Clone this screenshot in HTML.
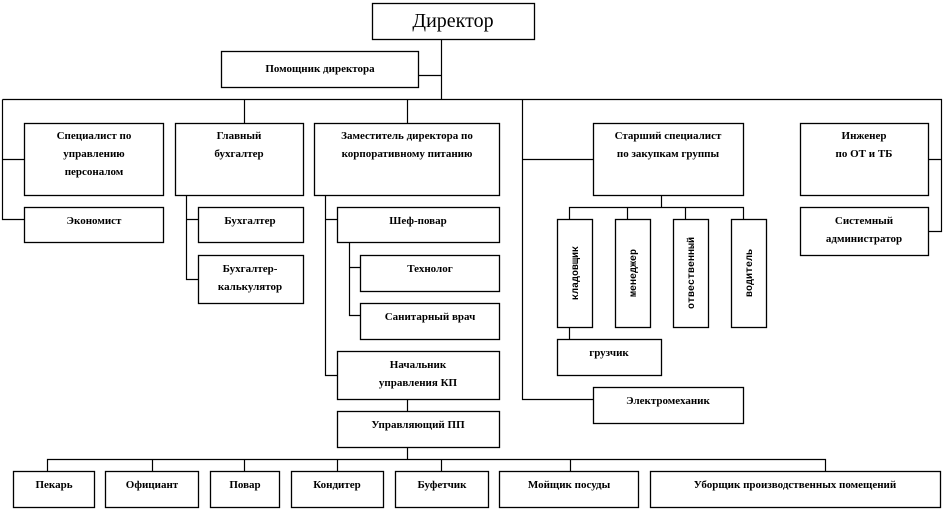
<!DOCTYPE html>
<html><head><meta charset="utf-8"><style>
html,body{margin:0;padding:0;background:#fff;}
svg{display:block}
text{font-family:"Liberation Serif",serif;font-weight:bold;font-size:11px;fill:#000}
.m{font-family:"Liberation Mono",monospace;font-size:10px}
</style></head><body>
<svg width="943" height="510" viewBox="0 0 943 510" xmlns="http://www.w3.org/2000/svg">
<g fill="#fff" stroke="#000" stroke-width="1.3">
<rect x="372.5" y="3.5" width="162" height="36"/>
<rect x="221.5" y="51.5" width="197" height="36"/>
<rect x="24.5" y="123.5" width="139" height="72"/>
<rect x="24.5" y="207.5" width="139" height="35"/>
<rect x="175.5" y="123.5" width="128" height="72"/>
<rect x="198.5" y="207.5" width="105" height="35"/>
<rect x="198.5" y="255.5" width="105" height="48"/>
<rect x="314.5" y="123.5" width="185" height="72"/>
<rect x="337.5" y="207.5" width="162" height="35"/>
<rect x="360.5" y="255.5" width="139" height="36"/>
<rect x="360.5" y="303.5" width="139" height="36"/>
<rect x="337.5" y="351.5" width="162" height="48"/>
<rect x="337.5" y="411.5" width="162" height="36"/>
<rect x="593.5" y="123.5" width="150" height="72"/>
<rect x="557.5" y="219.5" width="35" height="108"/>
<rect x="615.5" y="219.5" width="35" height="108"/>
<rect x="673.5" y="219.5" width="35" height="108"/>
<rect x="731.5" y="219.5" width="35" height="108"/>
<rect x="557.5" y="339.5" width="104" height="36"/>
<rect x="593.5" y="387.5" width="150" height="36"/>
<rect x="800.5" y="123.5" width="128" height="72"/>
<rect x="800.5" y="207.5" width="128" height="48"/>
<rect x="13.5" y="471.5" width="81" height="36"/>
<rect x="105.5" y="471.5" width="93" height="36"/>
<rect x="210.5" y="471.5" width="69" height="36"/>
<rect x="291.5" y="471.5" width="92" height="36"/>
<rect x="395.5" y="471.5" width="93" height="36"/>
<rect x="499.5" y="471.5" width="139" height="36"/>
<rect x="650.5" y="471.5" width="290" height="36"/>
</g>
<g fill="none" stroke="#000" stroke-width="1.2">
<path d="M441.5 39V99.5M418 75.5H441.5"/>
<path d="M2.5 99.5H941.5V231.5H928M941.5 159.5H928"/>
<path d="M2.5 99.5V219.5H24M2.5 159.5H24"/>
<path d="M244.5 99.5V123M407.5 99.5V123"/>
<path d="M186.5 195V279.5H198M186.5 219.5H198"/>
<path d="M325.5 195V375.5H337M325.5 219.5H337"/>
<path d="M349.5 242V315.5H360M349.5 267.5H360"/>
<path d="M407.5 399V411M407.5 447V459.5"/>
<path d="M47.5 471V459.5H825.5V471M152.5 459.5V471M244.5 459.5V471M337.5 459.5V471M441.5 459.5V471M570.5 459.5V471"/>
<path d="M522.5 99.5V399.5H593M522.5 159.5H593"/>
<path d="M661.5 195V207.5M569.5 219V207.5H743.5V219M627.5 207.5V219M685.5 207.5V219M569.5 327V339"/>
</g>
<g text-anchor="middle">
<text x="453" y="27" style="font-size:20px;font-weight:normal">Директор</text>
<text x="320" y="72">Помощник директора</text>
<text x="94" y="139">Специалист  по</text>
<text x="94" y="157">управлению</text>
<text x="94" y="175">персоналом</text>
<text x="94" y="224">Экономист</text>
<text x="239" y="139">Главный</text>
<text x="239" y="157">бухгалтер</text>
<text x="250" y="224">Бухгалтер</text>
<text x="250" y="272">Бухгалтер-</text>
<text x="250" y="290">калькулятор</text>
<text x="407" y="139">Заместитель  директора по</text>
<text x="407" y="157">корпоративному питанию</text>
<text x="418" y="224">Шеф-повар</text>
<text x="430" y="272">Технолог</text>
<text x="430" y="320">Санитарный врач</text>
<text x="418" y="368">Начальник</text>
<text x="418" y="386">управления КП</text>
<text x="418" y="428">Управляющий ПП</text>
<text x="668" y="139">Старший  специалист</text>
<text x="668" y="157">по закупкам группы</text>
<text x="609" y="356">грузчик</text>
<text x="668" y="404">Электромеханик</text>
<text x="864" y="139">Инженер</text>
<text x="864" y="157">по ОТ и ТБ</text>
<text x="864" y="224">Системный</text>
<text x="864" y="242">администратор</text>
<text x="54" y="488">Пекарь</text>
<text x="152" y="488">Официант</text>
<text x="245" y="488">Повар</text>
<text x="337" y="488">Кондитер</text>
<text x="442" y="488">Буфетчик</text>
<text x="569" y="488">Мойщик посуды</text>
<text x="795" y="488">Уборщик производственных  помещений</text>
<text class="m" transform="translate(578,273) rotate(-90)">кладовщик</text>
<text class="m" transform="translate(636,273) rotate(-90)">менеджер</text>
<text class="m" transform="translate(694,273) rotate(-90)">отвественный</text>
<text class="m" transform="translate(752,273) rotate(-90)">водитель</text>
</g>
</svg>
</body></html>
